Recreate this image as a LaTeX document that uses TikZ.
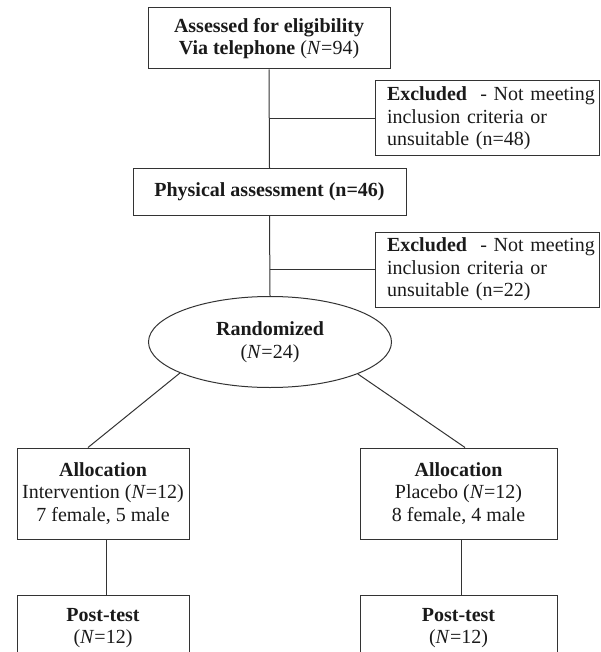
\documentclass[tikz,border=0pt]{standalone}
\usepackage{fontspec}
\setmainfont{Liberation Serif}
\usetikzlibrary{shapes.geometric,calc}
\definecolor{ink}{HTML}{1A1A1A}
\definecolor{edge}{HTML}{333333}
\tikzset{
  txt/.style={font=\fontsize{20}{22.5}\selectfont, text=ink},
  box/.style={draw=edge, line width=1pt, rectangle, inner sep=0pt, align=center, txt},
  exbox/.style={draw=edge, line width=1pt, rectangle, inner xsep=12pt, inner ysep=0pt,
    text width=200pt, align=left, minimum height=75pt, txt},
  oval/.style={draw=edge, line width=1pt, ellipse, inner sep=0pt, align=center,
    minimum width=243pt, minimum height=91pt, txt},
  link/.style={draw=edge, line width=1pt}
}
\begin{document}
\begin{tikzpicture}[x=1pt,y=-1pt]
\useasboundingbox (0,0) rectangle (600,652);
\clip (0,0) rectangle (600,652);
\node[box, minimum width=242pt, minimum height=61pt] (assess) at (269,38.5)
  {\textbf{Assessed for eligibility}\\\textbf{Via telephone} (\textit{N}=94)};
\node[exbox] (ex1) at (487,118.5)
  {\mbox{\textbf{Excluded}~ - Not meeting}\\inclusion criteria or\\unsuitable (n=48)};
\node[box, minimum width=273pt, minimum height=46pt] (phys) at (269.5,192)
  {\textbf{Physical assessment (n=46)}};
\node[exbox] (ex2) at (487,269.5)
  {\mbox{\textbf{Excluded}~ - Not meeting}\\inclusion criteria or\\unsuitable (n=22)};
\node[oval] (rand) at (270,342) {\textbf{Randomized}\\(\textit{N}=24)};
\node[box, minimum width=172pt, minimum height=91pt] (allocL) at (103,493.5)
  {\textbf{Allocation}\\Intervention (\textit{N}=12)\\7 female, 5 male};
\node[box, minimum width=197pt, minimum height=91pt] (allocR) at (458.5,493.5)
  {\textbf{Allocation}\\Placebo (\textit{N}=12)\\8 female, 4 male};
\node[box, minimum width=172pt, minimum height=66pt] (postL) at (103,628)
  {\textbf{Post-test}\\(\textit{N}=12)};
\node[box, minimum width=197pt, minimum height=66pt] (postR) at (458.5,628)
  {\textbf{Post-test}\\(\textit{N}=12)};

\coordinate (j1) at (assess.south |- ex1.west);
\coordinate (j2) at (phys.south |- ex2.west);
\draw[link] (assess.south) -- (phys.north);
\draw[link] (j1) -- (ex1.west);
\draw[link] (phys.south) -- (rand.north);
\draw[link] (j2) -- (ex2.west);
\draw[link] (rand.199.4) -- ([xshift=-15pt]allocL.north);
\draw[link] (rand.340.4) -- ([xshift=6.5pt]allocR.north);
\draw[link] ([xshift=3pt]allocL.south) -- ([xshift=3pt]postL.north);
\draw[link] ([xshift=2.5pt]allocR.south) -- ([xshift=2.5pt]postR.north);
\end{tikzpicture}
\end{document}
